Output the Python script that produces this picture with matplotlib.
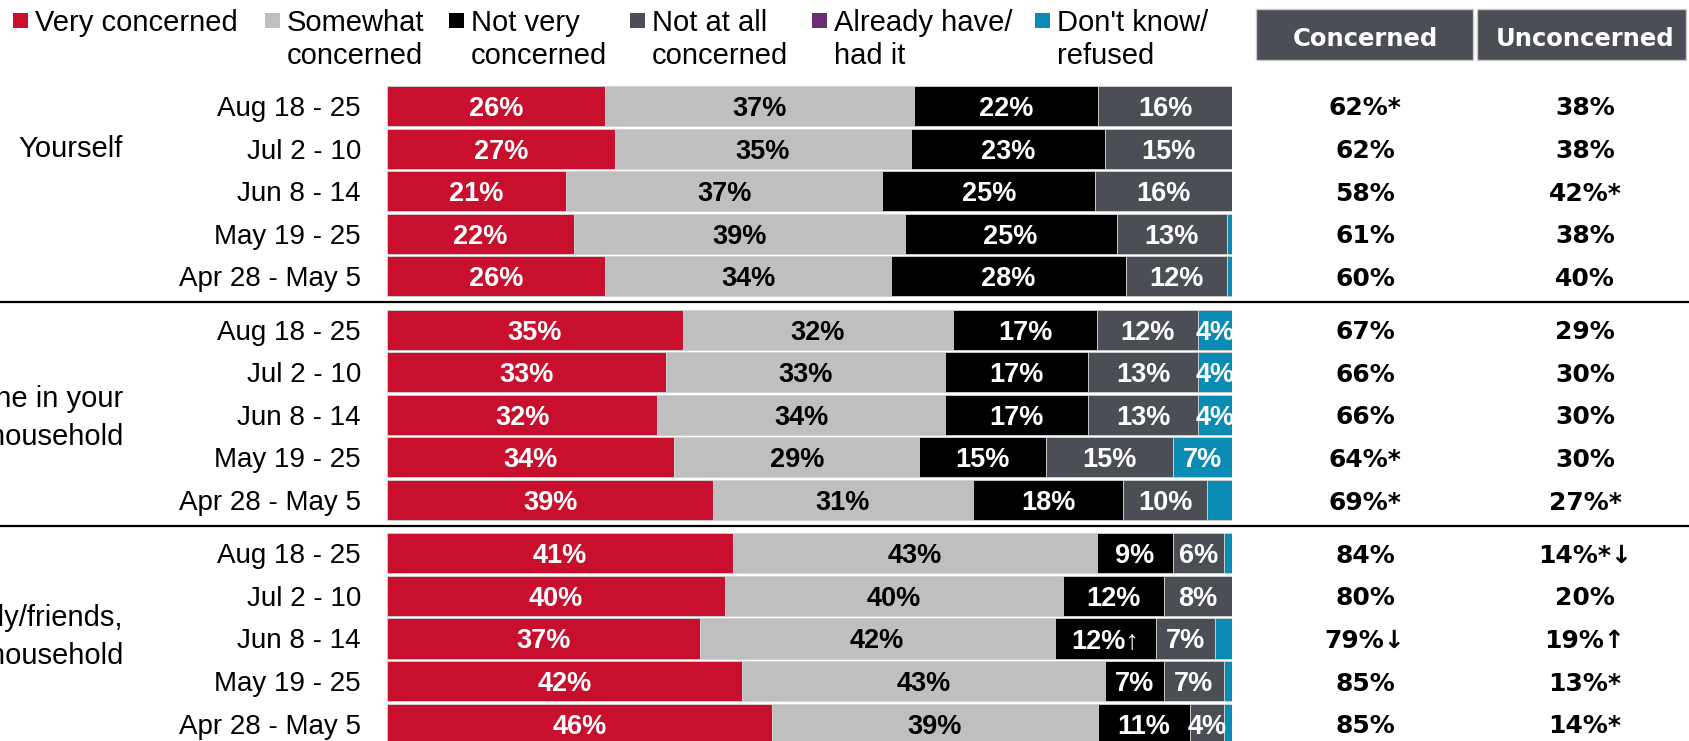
import matplotlib.pyplot as plt
import numpy as np
from matplotlib.patches import Rectangle

# survey waves, repeated for every group
dates = ["Aug 18 - 25", "Jul 2 - 10", "Jun 8 - 14", "May 19 - 25", "Apr 28 - May 5"]
groups = ["Yourself", "Someone in your\nhousehold", "Family/friends,\noutside your household"]
series = ["Very concerned", "Somewhat\nconcerned", "Not very\nconcerned",
          "Not at all\nconcerned", "Already have/\nhad it", "Don't know/\nrefused"]

# one value per row: 5 waves x 3 groups
very = [26, 27, 21, 22, 26, 35, 33, 32, 34, 39, 41, 40, 37, 42, 46]
somewhat = [37, 35, 37, 39, 34, 32, 33, 34, 29, 31, 43, 40, 42, 43, 39]
not_very = [22, 23, 25, 25, 28, 17, 17, 17, 15, 18, 9, 12, 12, 7, 11]
not_at_all = [16, 15, 16, 13, 12, 12, 13, 13, 15, 10, 6, 8, 7, 7, 4]
already = [0, 0, 0, 0, 0, 0, 0, 0, 0, 0, 0, 0, 0, 0, 0]
dont_know = [0, 0, 0, 0.6, 0.6, 4, 4, 4, 7, 3, 1, 0, 2, 1, 1]

concerned = ["62%*", "62%", "58%", "61%", "60%", "67%", "66%", "66%", "64%*", "69%*",
             "84%", "80%", "79%\u2193", "85%", "85%"]
unconcerned = ["38%", "38%", "42%*", "38%", "40%", "29%", "30%", "30%", "30%", "27%*",
               "14%*\u2193", "20%", "19%\u2191", "13%*", "14%*"]
bar_suffix = {(12, 2): "\u2191"}

colors = ["#c8102e", "#bfbfbf", "#000000", "#4b4e55", "#6b2d73", "#0a8bb3"]
text_colors = ["white", "black", "white", "white", "white", "white"]

W, H = 1690, 741
ROW_PX = 42.6      # row pitch in pixels
TOP_PX = 106       # centre of first bar
BAR_L, BAR_R = 387, 1232
GROUP_STEP = 5.25

plt.rcParams['font.family'] = ['Liberation Sans', 'DejaVu Sans']
fig = plt.figure(figsize=(W / 100, H / 100), dpi=100)
ax = fig.add_axes([BAR_L / W, 0, (BAR_R - BAR_L) / W, 1])
ax.set_xlim(0, 100)
ax.set_ylim((H - TOP_PX) / ROW_PX, -TOP_PX / ROW_PX)

values = np.array([very, somewhat, not_very, not_at_all, already, dont_know], dtype=float).T
shares = values / values.sum(axis=1, keepdims=True) * 100
pos = np.array([g * GROUP_STEP + i for g in range(len(groups)) for i in range(len(dates))])

left = np.zeros(len(pos))
for k in range(len(series)):
    ax.barh(pos, shares[:, k], left=left, height=0.94, color=colors[k],
            edgecolor="#d2d2d2", linewidth=0.6)
    for r, (y, l, w, v) in enumerate(zip(pos, left, shares[:, k], values[:, k])):
        if v >= 4:
            ax.text(l + w / 2, y, f"{v:.0f}%" + bar_suffix.get((r, k), ""),
                    ha="center", va="center_baseline", color=text_colors[k],
                    fontsize=19.5, fontweight="bold", clip_on=True)
    left += shares[:, k]

ax.set_yticks(pos, dates * len(groups))
ax.tick_params(axis="y", length=0, pad=18.7, labelsize=20)
ax.set_xticks([])
for s in ax.spines.values():
    s.set_visible(False)

yax = ax.get_yaxis_transform()
span = BAR_R - BAR_L

# group names, cut off at the left edge like the original
group_y = [1.0, GROUP_STEP + 2.07, 2 * GROUP_STEP + 1.97]
for name, y in zip(groups, group_y):
    ax.text((123 - BAR_L) / span, y, name, transform=yax, ha="right", va="center",
            fontsize=21, linespacing=1.45)

# separators between groups
for g in range(1, len(groups)):
    ax.axhline(g * GROUP_STEP - 0.65, xmin=-BAR_L / span, xmax=(W - BAR_L) / span,
               color="black", lw=1.6, clip_on=False)

# net columns
for y, c, u in zip(pos, concerned, unconcerned):
    ax.text((1365 - BAR_L) / span, y, c, transform=yax, ha="center", va="center_baseline",
            family="DejaVu Sans", fontweight="bold", fontsize=18)
    ax.text((1585 - BAR_L) / span, y, u, transform=yax, ha="center", va="center_baseline",
            family="DejaVu Sans", fontweight="bold", fontsize=18)

# header boxes
for (x0, x1, xc), title in zip([(1256, 1473, 1365), (1477, 1686, 1585)], ["Concerned", "Unconcerned"]):
    fig.add_artist(Rectangle((x0 / W, 1 - 60 / H), (x1 - x0) / W, 51 / H, transform=fig.transFigure,
                             facecolor="#4b4e55", edgecolor="#c8c8c8", lw=1))
    fig.text(xc / W, 1 - 37 / H, title, ha="center", va="center_baseline", color="white",
             family="DejaVu Sans", fontweight="bold", fontsize=17.5)

# legend along the top
legend_x = [13, 265, 449, 630, 812, 1035]
for x, name, c in zip(legend_x, series, colors):
    fig.add_artist(Rectangle((x / W, 1 - 28 / H), 15 / W, 15 / H, transform=fig.transFigure,
                             facecolor=c, edgecolor="none"))
    fig.text((x + 22) / W, 1 - 9 / H, name, va="top", ha="left", fontsize=21, linespacing=1.25)

fig.savefig("out.png", dpi=100)
